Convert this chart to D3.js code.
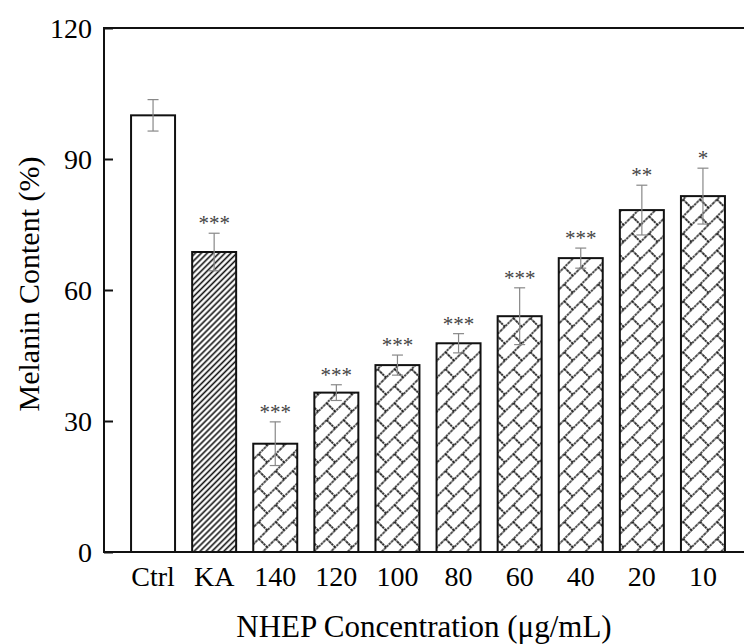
<!DOCTYPE html>
<html><head><meta charset="utf-8">
<script src="https://cdn.jsdelivr.net/npm/d3@7"></script>
<style>body{margin:0;background:#fff}svg{display:block}</style>
</head><body>
<svg id="c" width="744" height="644"></svg>
<script>
const categories = ["Ctrl","KA","140","120","100","80","60","40","20","10"];
const values = [100, 68.7, 24.8, 36.5, 42.8, 47.8, 54.0, 67.3, 78.3, 81.5];
const errors = [3.6, 4.3, 5.0, 1.8, 2.3, 2.2, 6.5, 2.3, 5.7, 6.4];
const stars = ["", "***", "***", "***", "***", "***", "***", "***", "**", "*"];
const fills = ["white", "diag", "brick", "brick", "brick", "brick", "brick", "brick", "brick", "brick"];
const yTicks = [0, 30, 60, 90, 120];

const svg = d3.select("#c");
const font = "'Liberation Serif','Times New Roman',serif";
const defs = svg.append("defs");

const pd = defs.append("pattern").attr("id","diag").attr("patternUnits","userSpaceOnUse")
  .attr("width",4.2).attr("height",4.2).attr("patternTransform","rotate(-45)");
pd.append("rect").attr("width",4.2).attr("height",4.2).attr("fill","white");
pd.append("line").attr("x1",0).attr("y1",2.1).attr("x2",4.2).attr("y2",2.1).attr("stroke","#111").attr("stroke-width",1.6);

const W = 24, H = 24;
const pb = defs.append("pattern").attr("id","brick").attr("patternUnits","userSpaceOnUse")
  .attr("width",W).attr("height",H).attr("patternTransform","rotate(-45)");
pb.append("rect").attr("width",W).attr("height",H).attr("fill","white");
[[0,0,W,0],[0,H/2,W,H/2],[0,H,W,H],[W/4,0,W/4,H/2],[3*W/4,H/2,3*W/4,H]].forEach(l=>{
  pb.append("line").attr("x1",l[0]).attr("y1",l[1]).attr("x2",l[2]).attr("y2",l[3])
    .attr("stroke","#111").attr("stroke-width",1.7).attr("stroke-dasharray","2.6,0.7");
});

const x = d3.scaleBand().domain(categories).range([122.5, 733.5]).paddingInner(0.28).paddingOuter(0.14);
const y = d3.scaleLinear().domain([0,120]).range([552, 28]);

// bars
const data = categories.map((c,i)=>({c, v:values[i], e:errors[i], s:stars[i], f:fills[i]}));
svg.selectAll("rect.bar").data(data).join("rect").attr("class","bar")
  .attr("x",d=>x(d.c)).attr("width",x.bandwidth())
  .attr("y",d=>y(d.v)).attr("height",d=>y(0)-y(d.v))
  .attr("fill",d=>d.f==="white"?"white":`url(#${d.f})`)
  .attr("stroke","#111").attr("stroke-width",2);

// error bars
const eg = svg.append("g").attr("stroke","#888").attr("stroke-width",1.2);
data.forEach(d=>{
  const cx = x(d.c)+x.bandwidth()/2;
  eg.append("line").attr("x1",cx).attr("x2",cx).attr("y1",y(d.v+d.e)).attr("y2",y(d.v-d.e));
  eg.append("line").attr("x1",cx-5.5).attr("x2",cx+5.5).attr("y1",y(d.v+d.e)).attr("y2",y(d.v+d.e));
  eg.append("line").attr("x1",cx-5.5).attr("x2",cx+5.5).attr("y1",y(d.v-d.e)).attr("y2",y(d.v-d.e));
});

// stars
svg.selectAll("text.star").data(data).join("text").attr("class","star")
  .attr("x",d=>x(d.c)+x.bandwidth()/2).attr("y",d=>y(d.v+d.e)-3)
  .attr("text-anchor","middle").attr("font-family",font).attr("font-size",21)
  .attr("fill","#444").text(d=>d.s);

// axes
const yAxis = d3.axisLeft(y).tickValues(yTicks).tickSize(-9).tickPadding(12);
const ga = svg.append("g").attr("transform","translate(104,0)").call(yAxis);
ga.select(".domain").remove();
ga.selectAll(".tick line").attr("stroke","#111").attr("stroke-width",2);
ga.selectAll(".tick text").attr("font-family",font).attr("font-size",28).attr("fill","#000").attr("dy","0.33em");

const xAxis = d3.axisBottom(x).tickSize(0).tickPadding(14);
const gx = svg.append("g").attr("transform","translate(0,552)").call(xAxis);
gx.select(".domain").remove();
gx.selectAll(".tick text").attr("font-family",font).attr("font-size",28).attr("fill","#000").attr("dy","0.71em");

// frame lines
svg.append("path").attr("d",`M744,${y(120)}H104V${y(0)}H744`)
  .attr("stroke","#111").attr("stroke-width",2).attr("fill","none");

// axis titles
svg.append("text").attr("transform","translate(39,284) rotate(-90)").attr("text-anchor","middle")
  .attr("font-family",font).attr("font-size",30).attr("fill","#000").text("Melanin Content (%)");
svg.append("text").attr("x",424).attr("y",637).attr("text-anchor","middle")
  .attr("font-family",font).attr("font-size",31).attr("fill","#000").text("NHEP Concentration (μg/mL)");
</script>
</body></html>
